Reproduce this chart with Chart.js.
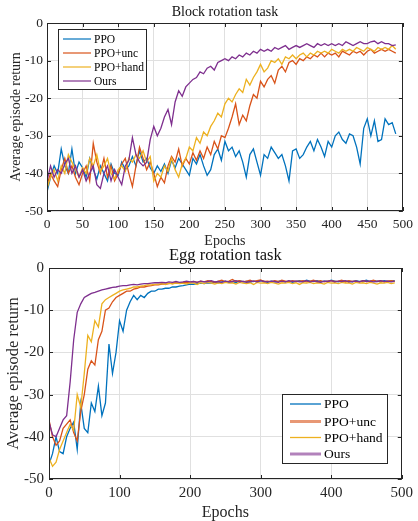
<!DOCTYPE html>
<html><head><meta charset="utf-8">
<script src="https://cdn.jsdelivr.net/npm/chart.js@4.4.1/dist/chart.umd.min.js"></script>
<style>
html,body{margin:0;padding:0;background:#fff;width:418px;height:521px;overflow:hidden;}
#c1{position:absolute;left:0;top:0;width:418px;height:250px;}
#c2{position:absolute;left:0;top:236px;width:418px;height:285px;}
</style></head><body>
<canvas id="c1" width="418" height="250"></canvas>
<canvas id="c2" width="418" height="285"></canvas>
<script>
// ---------- data ----------
const seriesNames = ['PPO', 'PPO+unc', 'PPO+hand', 'Ours'];
const seriesColors = ['#0072BD', '#D95319', '#EDB120', '#7E2F8E'];
const epochStep = 5;

// Block rotation task (epochs 0..490, every 5)
const blockPPO = [-45,-41,-38,-40,-33.5,-38,-40,-33.5,-40,-37,
 -38.5,-41,-36,-39,-41.5,-38,-40,-42,-37.5,-40,
 -40.5,-37,-39,-38,-35.5,-38,-34,-37,-36,-38.5,
 -40,-38,-39.5,-37.5,-40,-36.5,-38.5,-36,-37.5,-39,
 -40.5,-36,-37.5,-35,-38,-40.5,-39,-35,-33.5,-36.5,
 -31.5,-34,-33,-35.5,-34,-37,-41,-35,-33.5,-37,
 -40.5,-35,-36,-33,-34.5,-36,-35,-38,-42,-34,
 -33.5,-36,-35,-33,-31.5,-34,-31,-33,-35.5,-31.5,
 -33,-30,-29,-31,-32,-29.5,-30,-33,-37.5,-28,
 -25.5,-30,-26,-31.5,-31,-25.5,-27,-26.5,-29.5];
const blockUnc = [-43,-40,-42,-43.5,-39,-36,-40,-38,-41,-43,
 -40,-38,-42,-32,-37,-40,-36,-41,-38,-42,
 -40,-37.5,-36,-40,-43.5,-38,-33,-36,-39,-37,
 -40,-43.5,-41,-42.5,-38,-35.5,-37,-33.5,-38,-36,
 -37.5,-34.5,-36.5,-34,-36,-33,-35,-31.5,-33.5,-30,
 -30.5,-28,-25,-21.5,-27,-24.5,-26,-22,-19,-20,
 -15.5,-17,-15,-14,-16,-12.5,-11.5,-13,-10.5,-10,
 -11,-9.5,-10,-9,-9.5,-8.5,-9,-8,-9,-8,
 -8.5,-8,-9,-7.5,-8,-8.5,-7.5,-8,-7.5,-8.5,
 -7.5,-7,-8,-7.5,-7,-7.5,-7,-7.5,-8];
const blockHand = [-44,-41,-39,-42,-38,-40,-35,-37,-39,-41,
 -38.5,-40,-36,-38,-35,-39.5,-38,-36,-40,-41.5,
 -39,-38,-39.5,-36,-37,-35,-36,-34,-37,-35.5,
 -42,-40,-41,-38,-39.5,-36,-39,-41,-37.5,-36,
 -33,-34,-30.5,-32,-29,-30,-27.5,-26,-24,-25,
 -21.5,-20,-21,-19,-17.5,-18.5,-15,-16.5,-14.5,-13,
 -11,-13,-12,-10,-10.5,-9.5,-11,-9,-9.5,-8.5,
 -9.5,-8.5,-8,-9,-8,-8.5,-7.5,-8,-7.5,-8,
 -7,-7.5,-8,-7,-7.5,-7,-7.5,-6.5,-7,-7.5,
 -6.5,-7,-7.5,-6.5,-7,-6.5,-7,-6,-7];
const blockOurs = [-42,-38,-41,-39,-40,-37.5,-36,-40,-38,-41,
 -39,-42,-40,-38,-43,-44,-40,-38,-42,-39,
 -41,-43,-38,-36.5,-30.5,-35,-37,-38,-37,-31,
 -27.5,-30,-28,-25,-23,-27,-21,-18,-19.5,-17,
 -16,-15,-14.5,-13,-13.5,-12,-11.5,-12.5,-10.5,-10,
 -9.5,-10,-9,-9.5,-8.5,-9,-8,-8.5,-7.5,-8,
 -7,-7.5,-7,-7.5,-6.5,-7,-6.5,-6,-7,-6.5,
 -6,-6.5,-6,-5.5,-6,-6.5,-5.5,-6,-5.5,-6,
 -5.5,-6,-5.5,-6,-5,-5.5,-6,-5.5,-5,-5.5,
 -5.5,-5,-4.8,-5.5,-5,-5.5,-5.5,-6,-5.8];

// Egg rotation task (epochs 0..490, every 5)
const eggPPO = [-46.5,-44,-40,-43.5,-44,-40,-38,-36.5,-43,-32,
 -38,-39,-32,-34,-28,-35,-32,-18,-25,-20,
 -12.5,-15,-10,-8,-6.5,-7.5,-6.5,-7,-6,-5.5,
 -5.5,-5,-5,-4.8,-4.8,-4.5,-4.5,-4.3,-4.2,-4,
 -3.8,-3.9,-3.7,-3.6,-3.7,-3.5,-3.6,-3.4,-3.5,
 -3.3,-3.1,-3.4,-3.2,-3.5,-3.0,-3.3,-3.2,-3.4,-3.1,
 -3.3,-3.0,-3.2,-3.4,-3.1,-3.3,-3.2,-3.0,-3.3,-3.1,
 -3.4,-3.2,-3.0,-3.3,-2.9,-3.1,-3.2,-3.0,-3.3,-3.1,
 -3.2,-2.9,-3.1,-3.3,-3.0,-3.2,-3.1,-3.3,-3.0,-3.2,
 -3.1,-2.9,-3.2,-3.0,-3.1,-3.3,-3.0,-3.2,-3.1,-3.0];
const eggUnc = [-36,-40,-42,-41,-38,-37,-36,-39,-41,-34,
 -30,-24,-22,-23,-17,-15,-10,-9.5,-8,-7,
 -6.5,-6,-5.5,-5.5,-5,-4.8,-4.5,-4.5,-4.3,-4.2,
 -4,-4,-3.8,-3.8,-3.7,-3.6,-3.5,-3.6,-3.4,-3.5,
 -3.4,
 -3.2,-3.4,-3.1,-3.3,-3.0,-3.2,-3.4,-3.1,-2.9,-3.3,
 -3.1,-2.7,-3.2,-3.0,-3.3,-3.1,-2.9,-3.2,-3.0,-2.8,
 -3.2,-3.1,-3.3,-3.0,-3.2,-2.9,-3.1,-3.3,-3.0,-3.2,
 -3.1,-3.0,-3.3,-3.1,-2.9,-3.2,-3.0,-3.3,-3.1,-3.0,
 -3.2,-3.1,-2.9,-3.3,-3.0,-3.2,-3.1,-3.3,-3.0,-3.2,
 -3.1,-2.9,-3.2,-3.0,-3.3,-3.1,-3.0,-3.2];
const eggHand = [-45,-47,-46,-43,-41,-39,-37,-38.5,-30,-33,
 -25,-16,-17.5,-12.5,-14,-8.5,-7.5,-7,-6.5,-6,
 -5.5,-5.2,-5,-4.8,-4.5,-4.5,-4.3,-4.2,-4,-4,
 -3.9,
 -3.8,-3.7,-3.9,-3.6,-3.8,-3.5,-3.7,-3.6,-3.8,-3.5,
 -3.6,-3.9,-3.5,-3.7,-3.4,-3.6,-3.8,-3.5,-3.7,-3.4,
 -3.6,-3.5,-3.8,-3.4,-3.6,-3.7,-3.5,-3.9,-3.4,-3.6,
 -3.5,-3.7,-3.4,-3.6,-3.8,-3.5,-3.6,-3.4,-3.7,-3.5,
 -3.9,-3.5,-3.6,-3.4,-3.7,-3.5,-3.6,-3.8,-3.4,-3.6,
 -3.5,-3.7,-3.4,-3.6,-3.5,-3.8,-3.4,-3.6,-3.5,-3.7,
 -3.4,-3.6,-3.8,-3.5,-3.6,-3.4,-3.7,-3.5];
const eggOurs = [-36.5,-39.5,-40,-38,-36,-35,-27,-17,-10.5,-8.5,
 -7,-6.5,-6,-5.8,-5.5,-5.2,-5,-4.8,-4.6,-4.5,
 -4.3,-4.2,-4.2,-4,-3.9,-4,-3.8,-3.7,-3.7,-3.6,
 -3.5,
 -3.5,-3.4,-3.5,-3.3,-3.4,-3.2,-3.4,-3.3,-3.1,-3.3,
 -3.2,-3.4,-3.1,-3.3,-3.2,-3.0,-3.3,-3.2,-3.4,-3.1,
 -3.3,-3.2,-3.0,-3.3,-3.1,-3.4,-3.2,-3.1,-3.3,-3.0,
 -3.2,-3.3,-3.1,-3.2,-3.4,-3.1,-3.3,-3.0,-3.2,-3.1,
 -3.3,-3.2,-3.0,-3.3,-3.1,-3.2,-3.4,-3.1,-3.2,-3.0,
 -3.3,-3.1,-3.2,-3.0,-3.3,-3.2,-3.1,-3.3,-3.0,-3.2,
 -3.1,-3.3,-3.2,-3.0,-3.2,-3.1,-3.3,-3.1];

const blockXTicks = [0,50,100,150,200,250,300,350,400,450,500];
const eggXTicks = [0,100,200,300,400,500];
const yTicks = [-50,-40,-30,-20,-10,0];

// ---------- drawing ----------
const SERIF = "'Liberation Serif','Times New Roman',serif";
const TXT = '#262626';

const decoPlugin = {
  id: 'deco',
  afterDraw(chart, args, o) {
    const {ctx, chartArea: a, scales} = chart;
    ctx.save();
    ctx.strokeStyle = TXT; ctx.lineWidth = 1;
    ctx.beginPath();
    const L = o.tickLen;
    scales.x.ticks.forEach(t => {
      const px = Math.round(scales.x.getPixelForValue(t.value)) + 0.5;
      ctx.moveTo(px, a.bottom); ctx.lineTo(px, a.bottom - L);
      ctx.moveTo(px, a.top); ctx.lineTo(px, a.top + L);
    });
    scales.y.ticks.forEach(t => {
      const py = Math.round(scales.y.getPixelForValue(t.value)) + 0.5;
      ctx.moveTo(a.left, py); ctx.lineTo(a.left + L, py);
      ctx.moveTo(a.right, py); ctx.lineTo(a.right - L, py);
    });
    ctx.stroke();
    ctx.strokeRect(Math.round(a.left) + 0.5, Math.round(a.top) + 0.5,
                   Math.round(a.width) - 1, Math.round(a.height) - 1);
    // title
    ctx.fillStyle = '#111';
    ctx.font = o.titleFont;
    ctx.textAlign = 'center'; ctx.textBaseline = 'middle';
    ctx.fillText(o.title, (a.left + a.right) / 2, o.titleY);
    // legend
    const lg = o.legend;
    ctx.fillStyle = '#fff';
    ctx.fillRect(lg.x, lg.y, lg.w, lg.h);
    ctx.strokeStyle = TXT; ctx.lineWidth = 1;
    ctx.strokeRect(lg.x + 0.5, lg.y + 0.5, lg.w, lg.h);
    ctx.font = lg.font; ctx.textAlign = 'left'; ctx.textBaseline = 'middle';
    chart.data.datasets.forEach((ds, i) => {
      const y = lg.rows[i];
      ctx.save();
      ctx.globalAlpha = lg.alphas[i];
      ctx.strokeStyle = ds.borderColor; ctx.lineWidth = lg.widths[i];
      ctx.beginPath(); ctx.moveTo(lg.x1, y); ctx.lineTo(lg.x2, y); ctx.stroke();
      ctx.restore();
      ctx.fillStyle = '#000';
      ctx.fillText(ds.label, lg.tx, y + 0.5);
    });
    ctx.restore();
  }
};

function makeChart(id, series, xTicks, cfg) {
  const n = series[0].length;
  const epochs = Array.from({length: n}, (_, i) => i * epochStep);
  const datasets = series.map((vals, i) => ({
    label: seriesNames[i],
    data: vals.map((v, k) => ({x: epochs[k], y: v})),
    borderColor: seriesColors[i],
    borderWidth: cfg.lineW,
    pointRadius: 0,
    tension: 0,
    order: series.length - i
  }));
  return new Chart(document.getElementById(id), {
    type: 'line',
    data: {datasets},
    plugins: [decoPlugin],
    options: {
      responsive: false, animation: false,
      layout: {padding: cfg.padding},
      plugins: {legend: {display: false}, tooltip: {enabled: false}, deco: cfg.deco},
      scales: {
        x: {
          type: 'linear', min: 0, max: 500,
          afterBuildTicks: s => { s.ticks = xTicks.map(v => ({value: v})); },
          afterFit: s => { s.height = cfg.xH; },
          grid: {color: '#e0e0e0', lineWidth: 1, drawTicks: false},
          border: {display: false},
          ticks: {color: TXT, font: {family: SERIF, size: cfg.tickSize}, padding: cfg.xPad, maxRotation: 0, autoSkip: false},
          title: {display: true, text: 'Epochs', color: TXT,
                  font: {family: SERIF, size: cfg.xTitleSize, lineHeight: 1}, padding: {top: 0, bottom: cfg.xTitlePad}}
        },
        y: {
          type: 'linear', min: -50, max: 0,
          afterBuildTicks: s => { s.ticks = yTicks.map(v => ({value: v})); },
          afterFit: s => { s.width = cfg.yW; },
          grid: {color: '#e0e0e0', lineWidth: 1, drawTicks: false},
          border: {display: false},
          ticks: {color: TXT, font: {family: SERIF, size: cfg.tickSize}, padding: cfg.yPad},
          title: {display: true, text: 'Average episode return', color: TXT,
                  font: {family: SERIF, size: cfg.yTitleSize, lineHeight: 1}, padding: {top: cfg.yTitlePad, bottom: 0}}
        }
      }
    }
  });
}

makeChart('c1', [blockPPO, blockUnc, blockHand, blockOurs], blockXTicks, {
  padding: {left: 0, right: 12, top: 23, bottom: 0},
  xH: 39, yW: 47, tickSize: 13.5, xPad: 5, yPad: 4, lineW: 1.3,
  xTitleSize: 14, xTitlePad: 2, yTitleSize: 14, yTitlePad: 9,
  deco: {
    tickLen: 4, title: 'Block rotation task', titleY: 12,
    titleFont: "14px 'Liberation Serif', serif",
    legend: {x: 58, y: 29, w: 88, h: 60, rows: [39, 53, 67, 81], x1: 63, x2: 91, tx: 94,
             font: "11.5px 'Liberation Serif', serif", widths: [1.2, 1.2, 1.2, 1.2], alphas: [1, 1, 1, 1]}
  }
});

makeChart('c2', [eggPPO, eggUnc, eggHand, eggOurs], eggXTicks, {
  padding: {left: 0, right: 15, top: 32, bottom: 0},
  xH: 42, yW: 49, tickSize: 15, xPad: 5, yPad: 5, lineW: 1.3,
  xTitleSize: 16, xTitlePad: 0, yTitleSize: 16.5, yTitlePad: 5,
  deco: {
    tickLen: 4, title: 'Egg rotation task', titleY: 20,
    titleFont: "16.5px 'Liberation Serif', serif",
    legend: {x: 282, y: 158, w: 105, h: 69, rows: [168, 185.5, 201.5, 218], x1: 290, x2: 321, tx: 324,
             font: "13.5px 'Liberation Serif', serif", widths: [1.3, 3, 1.3, 3], alphas: [1, 0.6, 1, 0.6]}
  }
});
</script>
</body></html>
